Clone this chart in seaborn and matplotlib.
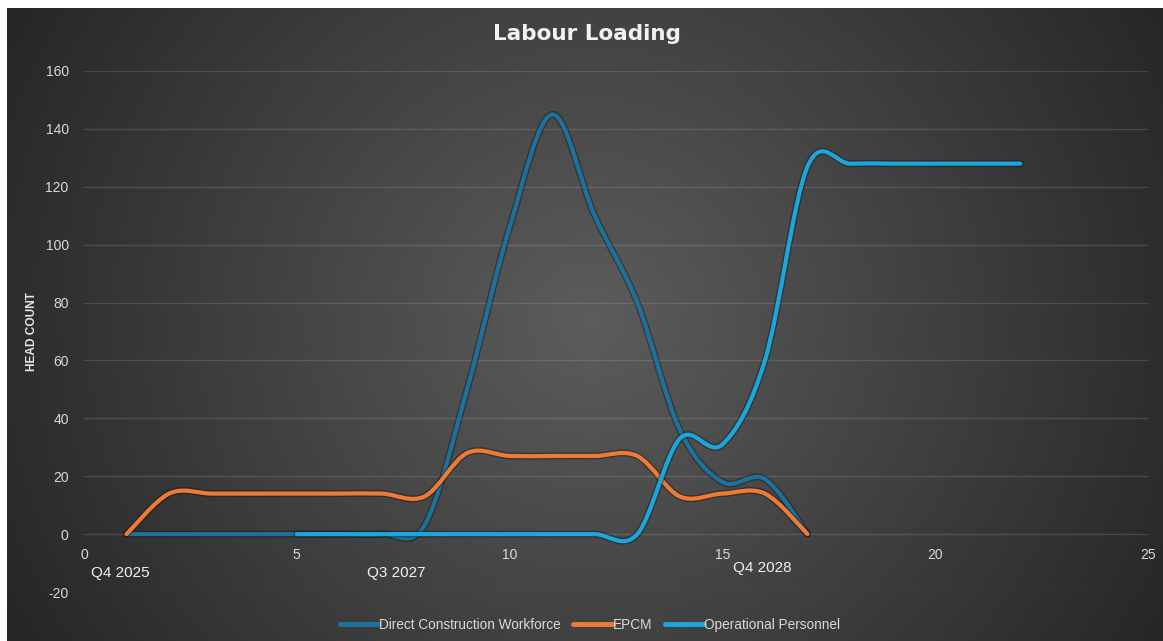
import numpy as np
import pandas as pd
import matplotlib
matplotlib.use("Agg")
import matplotlib.pyplot as plt
import seaborn as sns
from matplotlib.path import Path
from matplotlib.patches import PathPatch
from matplotlib.lines import Line2D
import matplotlib.patheffects as pe

# ---------------- data ----------------
series_names = ["Direct Construction Workforce", "EPCM", "Operational Personnel"]
x_dcw = [1, 2, 3, 4, 5, 6, 7, 8, 9, 10, 11, 12, 13, 14, 15, 16, 17]
y_dcw = [0, 0, 0, 0, 0, 0, 0, 3, 50, 106, 145, 110, 80, 36, 18, 19, 0]
x_epcm = [1, 2, 3, 4, 5, 6, 7, 8, 9, 10, 11, 12, 13, 14, 15, 16, 17]
y_epcm = [0, 14, 14, 14, 14, 14, 14, 13, 28, 27, 27, 27, 27, 13, 14, 14, 0]
x_op = [5, 6, 7, 8, 9, 10, 11, 12, 13, 14, 15, 16, 17, 18, 19, 20, 21, 22]
y_op = [0, 0, 0, 0, 0, 0, 0, 0, 0, 33, 31, 60, 127, 128, 128, 128, 128, 128]
period_labels = ["Q4 2025", "Q3 2027", "Q4 2028"]
x_ticks = [0, 5, 10, 15, 20, 25]
y_ticks = [-20, 0, 20, 40, 60, 80, 100, 120, 140, 160]

# ---------------- style ----------------
colors = ["#1c729c", "#ee7a35", "#1aa7dc"]
label_pos = [(0.85, -13.5), (7.34, -13.5), (15.94, -11.7)]

sns.set_theme(style="dark")
plt.rcParams["font.family"] = ["Liberation Sans", "DejaVu Sans"]
plt.rcParams["axes.unicode_minus"] = False

W, H = 1163, 641
fig = plt.figure(figsize=(W / 100, H / 100), dpi=100)
fig.patch.set_facecolor("white")

# background radial gradient
bg = fig.add_axes([7 / W, 0, 1 - 7 / W, 1 - 8 / H])
bg.axis("off")
bh, bw = H - 8, W - 7
yy, xx = np.mgrid[0:bh, 0:bw]
cx, cy = 590 - 7, 320 - 8
r = np.sqrt(((xx - cx) / 640.0) ** 2 + ((yy - cy) / 620.0) ** 2)
v = np.clip(92 - 52 * r, 36, 92) / 255.0
bg.imshow(np.dstack([v, v, v]), aspect="auto", extent=[0, 1, 0, 1], origin="upper")
bg.set_xlim(0, 1)
bg.set_ylim(0, 1)

ax = fig.add_axes([84 / W, 1 - 592 / H, 1064 / W, 521 / H])
ax.set_facecolor("none")

df = pd.concat([
    pd.DataFrame({"x": x_dcw, "y": y_dcw, "series": series_names[0]}),
    pd.DataFrame({"x": x_epcm, "y": y_epcm, "series": series_names[1]}),
    pd.DataFrame({"x": x_op, "y": y_op, "series": series_names[2]}),
], ignore_index=True)

sns.lineplot(data=df, x="x", y="y", hue="series", hue_order=series_names,
             palette=colors, ax=ax, legend=False, sort=False, estimator=None)


def smooth_path(xy):
    pts = np.asarray(xy, dtype=float)
    n = len(pts)
    verts = [pts[0]]
    codes = [Path.MOVETO]
    for i in range(n - 1):
        p0 = pts[i - 1] if i > 0 else pts[i]
        p1 = pts[i]
        p2 = pts[i + 1]
        p3 = pts[i + 2] if i + 2 < n else pts[i + 1]
        c1 = p1 + (p2 - p0) / 6.0
        c2 = p2 - (p3 - p1) / 6.0
        verts += [c1, c2, p2]
        codes += [Path.CURVE4] * 3
    return Path(verts, codes)


for line in list(ax.lines):
    xy = line.get_xydata()
    col = line.get_color()
    line.set_visible(False)
    patch = PathPatch(smooth_path(xy), facecolor="none", edgecolor=col, lw=3.0,
                      capstyle="round", joinstyle="round", zorder=3)
    patch.set_path_effects([pe.Stroke(linewidth=5.0, foreground="#101010", alpha=0.4),
                            pe.Normal()])
    ax.add_patch(patch)

ax.set_xlim(0, 25)
ax.set_ylim(-20, 160)
ax.set_xticks(x_ticks)
ax.set_yticks(y_ticks)
ax.grid(axis="y", color="white", alpha=0.13, lw=1)
ax.grid(axis="x", visible=False)
for s in ax.spines.values():
    s.set_visible(False)
ax.spines["bottom"].set_position(("data", 0))
ax.tick_params(axis="x", length=0, pad=10, labelsize=10, labelcolor="#d9d9d9")
ax.tick_params(axis="y", length=0, pad=11, labelsize=10, labelcolor="#d9d9d9")
ax.set_xlabel("")
ax.set_ylabel("HEAD COUNT", fontsize=8.6, fontweight="bold", color="#e6e6e6")
ax.yaxis.set_label_coords(-0.043, 0.5)

for lab, (px, py) in zip(period_labels, label_pos):
    ax.text(px, py, lab, ha="center", va="center", fontsize=11, color="#f2f2f2")

fig.text(0.505, 1 - 34 / H, "Labour Loading", ha="center", va="center",
         fontsize=15.5, fontweight="bold", color="#f2f2f2", family="DejaVu Sans")

handles = [Line2D([], [], color=c, lw=3.5) for c in colors]
fig.legend(handles, series_names, loc="center", bbox_to_anchor=(590 / W, 1 - 625 / H),
           ncol=3, frameon=False, handlelength=2.9, handletextpad=0.0,
           columnspacing=0.9, fontsize=9.8, labelcolor="#d9d9d9")

fig.savefig("out.png", dpi=100, facecolor=fig.get_facecolor())
